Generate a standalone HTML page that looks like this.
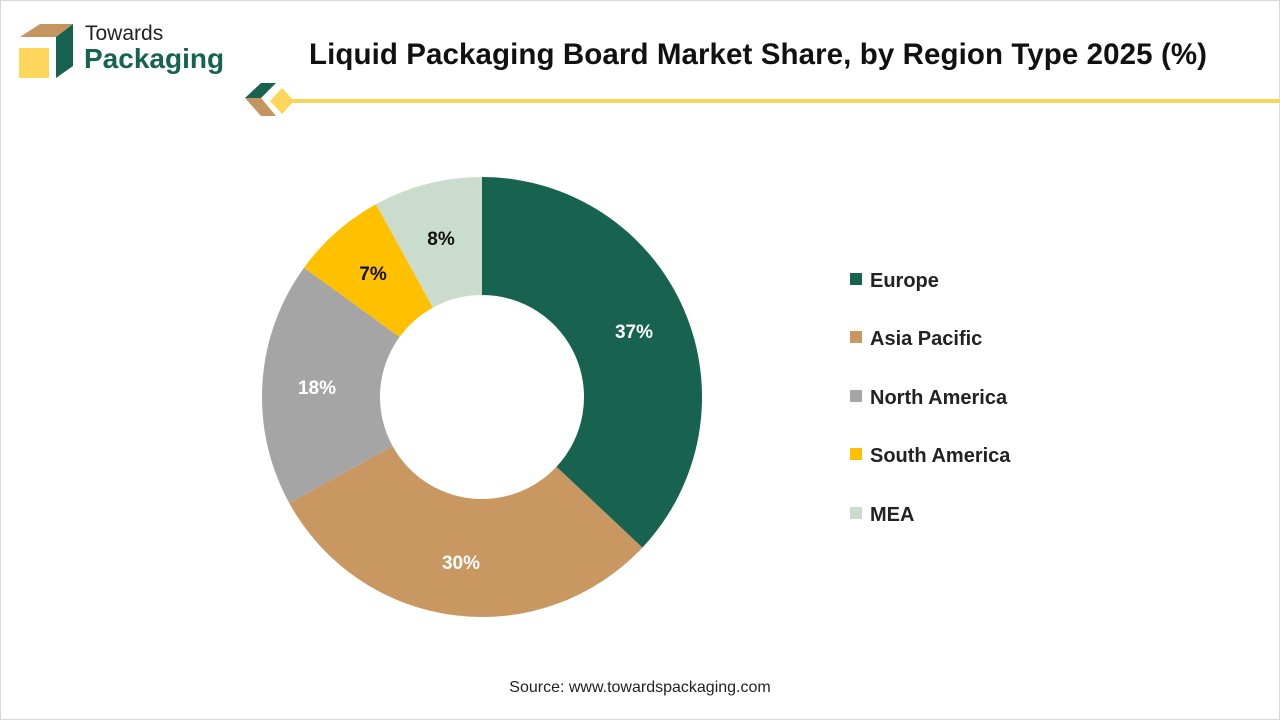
<!DOCTYPE html>
<html><head><meta charset="utf-8"><style>
body{margin:0;width:1280px;height:720px;background:#fff;font-family:"Liberation Sans",sans-serif;overflow:hidden}
.frame{position:absolute;left:0;top:0;width:1278px;height:718px;border:1px solid #d9d9d9}
</style></head><body><div class="frame"></div>
<svg width="1280" height="720" style="position:absolute;left:0;top:0">
<polygon points="20,37 40,24 73,24 56,37" fill="#c4955f"/>
<rect x="19" y="48" width="30" height="30" fill="#fdd65b"/>
<polygon points="56,37 73,24 73,66 56,78" fill="#17634f"/>
<text x="85" y="40" font-size="21" fill="#222">Towards</text>
<text x="84" y="68" font-size="28" font-weight="bold" fill="#17634f">Packaging</text>
<text x="758" y="64" font-size="29.5" font-weight="bold" text-anchor="middle" fill="#111" textLength="898">Liquid Packaging Board Market Share, by Region Type 2025 (%)</text>
<polygon points="245,98 261,83 276,83 261,98" fill="#17634f"/>
<polygon points="245,98 261,98 276,116 261,116" fill="#c4955f"/>
<polygon points="270,101 282,88 294,101 282,114" fill="#fdd65b"/>
<rect x="290" y="99" width="990" height="4" fill="#f6d55c"/>
<path d="M482,177 A220,220 0 0 1 642.4,547.6 L556.4,466.8 A102,102 0 0 0 482,295 Z" fill="#17634f"/>
<path d="M642.4,547.6 A220,220 0 0 1 289.2,503 L392.6,446.1 A102,102 0 0 0 556.4,466.8 Z" fill="#c89762"/>
<path d="M289.2,503 A220,220 0 0 1 304,267.7 L399.5,337 A102,102 0 0 0 392.6,446.1 Z" fill="#a5a5a5"/>
<path d="M304,267.7 A220,220 0 0 1 376,204.2 L432.9,307.6 A102,102 0 0 0 399.5,337 Z" fill="#ffc000"/>
<path d="M376,204.2 A220,220 0 0 1 482,177 L482,295 A102,102 0 0 0 432.9,307.6 Z" fill="#c9dccd"/>
<g font-size="19" font-weight="bold" text-anchor="middle">
<text x="634" y="338" fill="#fff">37%</text>
<text x="461" y="569" fill="#fff">30%</text>
<text x="317" y="394" fill="#fff">18%</text>
<text x="373" y="280" fill="#111">7%</text>
<text x="441" y="245" fill="#111">8%</text>
</g>
<g font-size="20" font-weight="bold" fill="#222">
<rect x="850" y="273" width="12" height="12" fill="#17634f"/><text x="870" y="287">Europe</text>
<rect x="850" y="331" width="12" height="12" fill="#c89762"/><text x="870" y="345">Asia Pacific</text>
<rect x="850" y="390" width="12" height="12" fill="#a5a5a5"/><text x="870" y="404">North America</text>
<rect x="850" y="448" width="12" height="12" fill="#ffc000"/><text x="870" y="462">South America</text>
<rect x="850" y="507" width="12" height="12" fill="#c9dccd"/><text x="870" y="521">MEA</text>
</g>
<text x="640" y="692" font-size="16" text-anchor="middle" fill="#222">Source: www.towardspackaging.com</text>
</svg>
</body></html>
